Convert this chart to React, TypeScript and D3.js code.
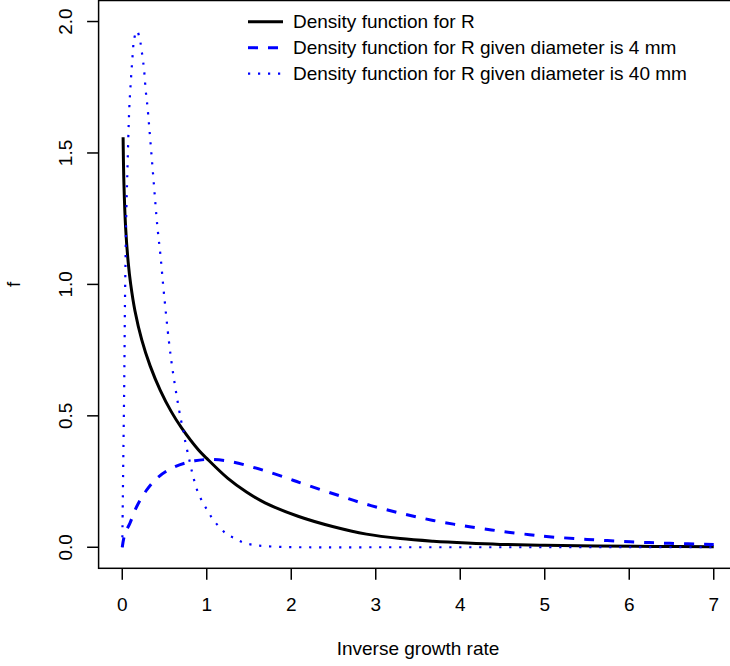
import React from "react";
import * as d3 from "d3";

// ---- data ----
const xTicks = [0, 1, 2, 3, 4, 5, 6, 7];
const yTicks = [0, 0.5, 1, 1.5, 2];
const yTickLabels = ["0.0", "0.5", "1.0", "1.5", "2.0"];

// Density function for R (solid black)
const densityR: [number, number][] = [
  [0.01, 1.56], [0.02, 1.38], [0.04, 1.215], [0.07, 1.085], [0.1, 1.0],
  [0.15, 0.9], [0.23, 0.79], [0.33, 0.69], [0.45, 0.597], [0.58, 0.516],
  [0.7, 0.455], [0.9, 0.371], [1.0, 0.338], [1.25, 0.262], [1.47, 0.21],
  [1.69, 0.169], [2.08, 0.118], [2.5, 0.078], [2.89, 0.05], [3.29, 0.033],
  [3.68, 0.023], [4.08, 0.016], [4.47, 0.011], [5.0, 0.0076], [5.6, 0.005],
  [6.3, 0.003], [7.0, 0.002],
];

// Density for R given diameter 4 mm (dashed blue)
const density4mm: [number, number][] = [
  [0, 0], [0.03, 0.05], [0.09, 0.091], [0.17, 0.154], [0.29, 0.218],
  [0.43, 0.268], [0.62, 0.306], [0.86, 0.329], [1.06, 0.334], [1.3, 0.325],
  [1.53, 0.306], [1.73, 0.287], [1.95, 0.263], [2.1, 0.246], [2.36, 0.218],
  [2.6, 0.193], [2.81, 0.171], [3.03, 0.151], [3.25, 0.133], [3.46, 0.117],
  [3.68, 0.102], [3.92, 0.088], [4.13, 0.077], [4.37, 0.066], [4.59, 0.056],
  [4.82, 0.048], [5.02, 0.041], [5.5, 0.03], [6.01, 0.021], [6.48, 0.015],
  [7.0, 0.011],
];

// Density for R given diameter 40 mm (dotted blue)
const density40mm: [number, number][] = [
  [0, 0], [0.012, 0.33], [0.024, 0.64], [0.032, 0.93], [0.04, 1.12],
  [0.047, 1.26], [0.059, 1.41], [0.083, 1.67], [0.095, 1.74], [0.111, 1.82],
  [0.127, 1.89], [0.138, 1.93], [0.174, 1.965], [0.209, 1.93], [0.229, 1.89],
  [0.257, 1.82], [0.277, 1.74], [0.3, 1.67], [0.367, 1.41], [0.414, 1.225],
  [0.45, 1.117], [0.493, 0.967], [0.553, 0.781], [0.596, 0.674], [0.648, 0.568],
  [0.695, 0.484], [0.722, 0.446], [0.742, 0.408], [0.79, 0.338], [0.84, 0.268],
  [0.9, 0.205], [0.96, 0.167], [1.018, 0.135], [1.077, 0.104], [1.156, 0.075],
  [1.235, 0.05], [1.334, 0.034], [1.43, 0.018], [1.55, 0.009], [1.67, 0.005],
  [1.9, 0.001], [2.2, 0], [3, 0], [4, 0], [5, 0], [6, 0], [7, 0],
];

const legendLabels = [
  "Density function for R",
  "Density function for R given diameter is 4 mm",
  "Density function for R given diameter is 40 mm",
];
const legendColors = ["#000000", "#0000ff", "#0000ff"];
const legendDash = ["none", "10 10", "2.2 7.8"];

const xLabel = "Inverse growth rate";
const yLabel = "f";

export default function App() {
  const W = 730, H = 666;
  const left = 98.6, right = 737.4, top = 0.5, bottom = 568.3;
  const x = d3.scaleLinear().domain([-0.28, 7.28]).range([left, right]);
  const y = d3.scaleLinear().domain([-0.08, 2.08]).range([bottom, top]);
  const line = d3
    .line<[number, number]>()
    .x((d) => x(d[0]))
    .y((d) => y(d[1]))
    .curve(d3.curveCatmullRom.alpha(0.5));

  const font = "'Liberation Sans', Arial, Helvetica, sans-serif";
  const fs = 19;
  const series = [densityR, density4mm, density40mm];
  const widths = [3, 3, 2.2];

  return (
    <svg
      width={W}
      height={H}
      style={{ position: "absolute", left: 0, top: 0, background: "#fff" }}
      fontFamily={font}
      fontSize={fs}
    >
      <rect x={0} y={0} width={W} height={H} fill="#fff" />
      {/* curves */}
      {series.map((s, i) => (
        <path
          key={i}
          d={line(s) || ""}
          fill="none"
          stroke={legendColors[i]}
          strokeWidth={widths[i]}
          strokeDasharray={legendDash[i]}
          strokeLinejoin="round"
        />
      ))}
      {/* box */}
      <rect
        x={left}
        y={top}
        width={right - left}
        height={bottom - top}
        fill="none"
        stroke="#000"
        strokeWidth={1.5}
      />
      {/* x axis */}
      {xTicks.map((t) => (
        <g key={"x" + t}>
          <line x1={x(t)} x2={x(t)} y1={bottom} y2={bottom + 11.5} stroke="#000" strokeWidth={1.5} />
          <text x={x(t)} y={611} textAnchor="middle" fill="#000">
            {String(t)}
          </text>
        </g>
      ))}
      {/* y axis */}
      {yTicks.map((t, i) => (
        <g key={"y" + t}>
          <line x1={left} x2={left - 11.5} y1={y(t)} y2={y(t)} stroke="#000" strokeWidth={1.5} />
          <text
            transform={`translate(71.7,${y(t)}) rotate(-90)`}
            textAnchor="middle"
            fill="#000"
          >
            {yTickLabels[i]}
          </text>
        </g>
      ))}
      {/* axis titles */}
      <text x={(left + right) / 2} y={655} textAnchor="middle" fill="#000">
        {xLabel}
      </text>
      <text transform={`translate(20,${(top + bottom) / 2}) rotate(-90)`} textAnchor="middle" fill="#000">
        {yLabel}
      </text>
      {/* legend */}
      {legendLabels.map((lab, i) => {
        const ly = 21.7 + i * 26;
        return (
          <g key={"l" + i}>
            <line
              x1={248}
              x2={283}
              y1={ly}
              y2={ly}
              stroke={legendColors[i]}
              strokeWidth={widths[i]}
              strokeDasharray={legendDash[i]}
            />
            <text x={293} y={ly + 6} fill="#000">
              {lab}
            </text>
          </g>
        );
      })}
    </svg>
  );
}
